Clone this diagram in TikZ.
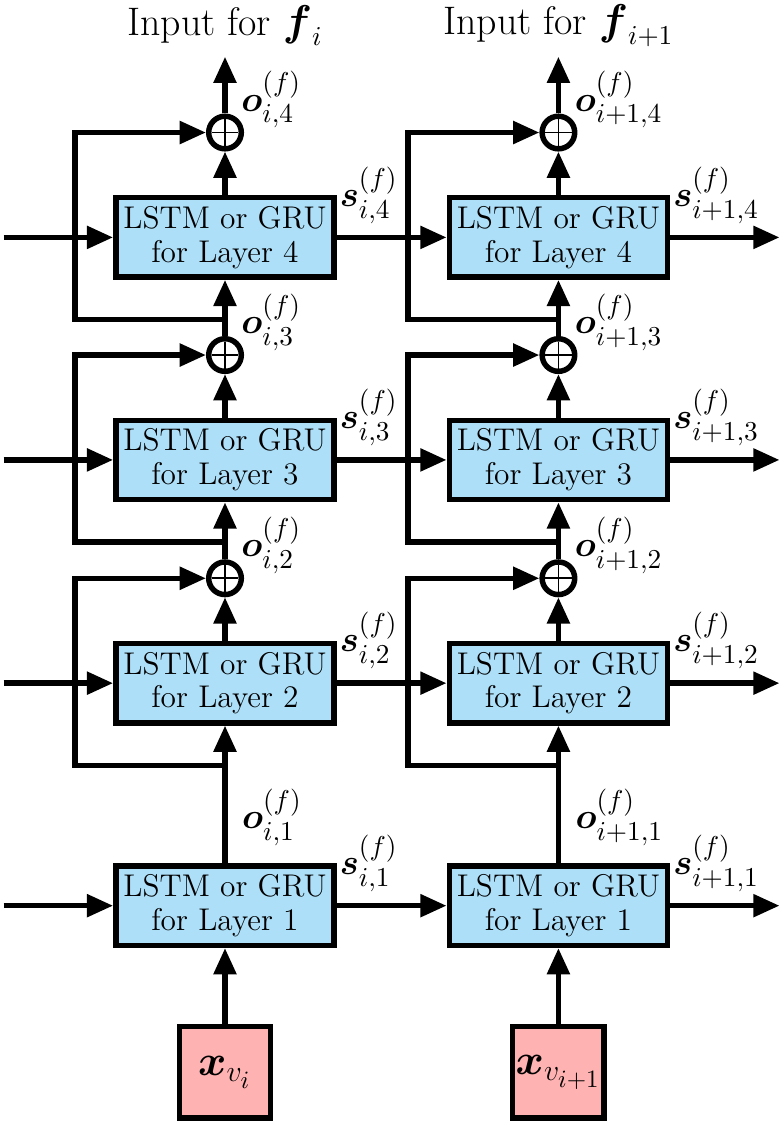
\documentclass[tikz,border=0pt]{standalone}
\usepackage{amsmath}
\usepackage{amssymb}
\usepackage{xcolor}
\usepackage{tikz}
\usetikzlibrary{arrows.meta,positioning,calc}
\definecolor{clrCell}{RGB}{173,223,248}
\definecolor{clrInp}{RGB}{255,178,178}
\tikzset{
  lstmbox/.style={rectangle,draw=black,fill=clrCell,line width=2.2pt,
    minimum width=3.08cm,minimum height=1.12cm,align=center,inner sep=0pt,
    font=\fontsize{12.6}{13.5}\selectfont},
  inputbox/.style={rectangle,draw=black,fill=clrInp,line width=2.2pt,
    minimum width=1.29cm,minimum height=1.29cm,inner sep=0pt,
    font=\LARGE},
  addnode/.style={circle,draw=black,fill=white,line width=2.2pt,
    minimum size=0.46cm,inner sep=0pt,
    path picture={
      \draw[line width=0.7pt]
        ($(path picture bounding box.north)+(0,-0.04)$) --
        ($(path picture bounding box.south)+(0,0.04)$)
        ($(path picture bounding box.west)+(0.04,0)$) --
        ($(path picture bounding box.east)+(-0.04,0)$);}},
  arrow/.style={-{Triangle[length=0.37cm,width=0.31cm]},line width=2.2pt},
  lbl/.style={font=\fontsize{15.5}{18}\selectfont,inner sep=1pt},
  heading/.style={font=\fontsize{16}{19}\selectfont}
}

\begin{document}
\begin{tikzpicture}[x=1cm,y=1cm]
  \useasboundingbox (0,0) rectangle (11.063,-15.875);

  % headings
  \node[heading] (ttli) at (3.175,-0.36) {Input for $\boldsymbol{f}_i$};
  \node[heading] (ttlj) at (7.88,-0.36) {Input for $\boldsymbol{f}_{i+1}$};

  % column i
  \node[inputbox] (inpi) at (3.175,-15.13) {$\boldsymbol{x}_{v_i}$};
  \node[lstmbox] (lstmi1) at (3.175,-12.78) {LSTM or GRU\\for Layer 1};
  \node[lstmbox] (lstmi2) at (3.175,-9.64) {LSTM or GRU\\for Layer 2};
  \node[lstmbox] (lstmi3) at (3.175,-6.49) {LSTM or GRU\\for Layer 3};
  \node[lstmbox] (lstmi4) at (3.175,-3.35) {LSTM or GRU\\for Layer 4};
  \node[addnode] (addi2) at (3.175,-8.16) {};
  \node[addnode] (addi3) at (3.175,-5.01) {};
  \node[addnode] (addi4) at (3.175,-1.87) {};
  \coordinate (tapi2) at (3.175,-10.80);
  \coordinate (tapi3) at (3.175,-7.65);
  \coordinate (tapi4) at (3.175,-4.51);
  \coordinate (outi) at (3.175,-0.80);
  \coordinate (ini1) at (0.05,-12.78);
  \coordinate (ini2) at (0.05,-9.64);
  \coordinate (ini3) at (0.05,-6.49);
  \coordinate (ini4) at (0.05,-3.35);

  % column i+1
  \node[inputbox] (inpj) at (7.88,-15.13) {$\boldsymbol{x}_{v_{i+1}}$};
  \node[lstmbox] (lstmj1) at (7.88,-12.78) {LSTM or GRU\\for Layer 1};
  \node[lstmbox] (lstmj2) at (7.88,-9.64) {LSTM or GRU\\for Layer 2};
  \node[lstmbox] (lstmj3) at (7.88,-6.49) {LSTM or GRU\\for Layer 3};
  \node[lstmbox] (lstmj4) at (7.88,-3.35) {LSTM or GRU\\for Layer 4};
  \node[addnode] (addj2) at (7.88,-8.16) {};
  \node[addnode] (addj3) at (7.88,-5.01) {};
  \node[addnode] (addj4) at (7.88,-1.87) {};
  \coordinate (tapj2) at (7.88,-10.80);
  \coordinate (tapj3) at (7.88,-7.65);
  \coordinate (tapj4) at (7.88,-4.51);
  \coordinate (outj) at (7.88,-0.80);
  \coordinate (endj1) at (11.0,-12.78);
  \coordinate (endj2) at (11.0,-9.64);
  \coordinate (endj3) at (11.0,-6.49);
  \coordinate (endj4) at (11.0,-3.35);

  % vertical flow
  \draw[arrow] (inpi) -- (lstmi1);
  \draw[arrow] (lstmi1) -- (lstmi2);
  \draw[arrow] (lstmi2) -- (addi2);
  \draw[arrow] (addi2) -- (lstmi3);
  \draw[arrow] (lstmi3) -- (addi3);
  \draw[arrow] (addi3) -- (lstmi4);
  \draw[arrow] (lstmi4) -- (addi4);
  \draw[arrow] (addi4) -- (outi);
  \draw[arrow] (inpj) -- (lstmj1);
  \draw[arrow] (lstmj1) -- (lstmj2);
  \draw[arrow] (lstmj2) -- (addj2);
  \draw[arrow] (addj2) -- (lstmj3);
  \draw[arrow] (lstmj3) -- (addj3);
  \draw[arrow] (addj3) -- (lstmj4);
  \draw[arrow] (lstmj4) -- (addj4);
  \draw[arrow] (addj4) -- (outj);

  % residual skips
  \draw[arrow] (tapi2) -- ++(-2.12,0) |- (addi2);
  \draw[arrow] (tapi3) -- ++(-2.12,0) |- (addi3);
  \draw[arrow] (tapi4) -- ++(-2.12,0) |- (addi4);
  \draw[arrow] (tapj2) -- ++(-2.12,0) |- (addj2);
  \draw[arrow] (tapj3) -- ++(-2.12,0) |- (addj3);
  \draw[arrow] (tapj4) -- ++(-2.12,0) |- (addj4);

  % hidden states
  \draw[arrow] (ini1) -- (lstmi1);
  \draw[arrow] (ini2) -- (lstmi2);
  \draw[arrow] (ini3) -- (lstmi3);
  \draw[arrow] (ini4) -- (lstmi4);
  \draw[arrow] (lstmi1) -- (lstmj1);
  \draw[arrow] (lstmi2) -- (lstmj2);
  \draw[arrow] (lstmi3) -- (lstmj3);
  \draw[arrow] (lstmi4) -- (lstmj4);
  \draw[arrow] (lstmj1) -- (endj1);
  \draw[arrow] (lstmj2) -- (endj2);
  \draw[arrow] (lstmj3) -- (endj3);
  \draw[arrow] (lstmj4) -- (endj4);

  % labels
  \node[lbl,anchor=south west] (oi1) at ($(lstmi1.north)+(0.2,0.2)$)
    {$\boldsymbol{o}^{(f)}_{i,1}$};
  \node[lbl,anchor=south west] (oi2) at ($(addi2.north east)+(0,-0.17)$) {$\boldsymbol{o}^{(f)}_{i,2}$};
  \node[lbl,anchor=south west] (oi3) at ($(addi3.north east)+(0,-0.17)$) {$\boldsymbol{o}^{(f)}_{i,3}$};
  \node[lbl,anchor=south west] (oi4) at ($(addi4.north east)+(0,-0.17)$) {$\boldsymbol{o}^{(f)}_{i,4}$};
  \node[lbl,anchor=south west] (oj1) at ($(lstmj1.north)+(0.2,0.2)$)
    {$\boldsymbol{o}^{(f)}_{i+1,1}$};
  \node[lbl,anchor=south west] (oj2) at ($(addj2.north east)+(0,-0.17)$) {$\boldsymbol{o}^{(f)}_{i+1,2}$};
  \node[lbl,anchor=south west] (oj3) at ($(addj3.north east)+(0,-0.17)$) {$\boldsymbol{o}^{(f)}_{i+1,3}$};
  \node[lbl,anchor=south west] (oj4) at ($(addj4.north east)+(0,-0.17)$) {$\boldsymbol{o}^{(f)}_{i+1,4}$};
  \node[lbl,anchor=west] (si1) at (lstmi1.north east) {$\boldsymbol{s}^{(f)}_{i,1}$};
  \node[lbl,anchor=west] (si2) at (lstmi2.north east) {$\boldsymbol{s}^{(f)}_{i,2}$};
  \node[lbl,anchor=west] (si3) at (lstmi3.north east) {$\boldsymbol{s}^{(f)}_{i,3}$};
  \node[lbl,anchor=west] (si4) at (lstmi4.north east) {$\boldsymbol{s}^{(f)}_{i,4}$};
  \node[lbl,anchor=west] (sj1) at (lstmj1.north east) {$\boldsymbol{s}^{(f)}_{i+1,1}$};
  \node[lbl,anchor=west] (sj2) at (lstmj2.north east) {$\boldsymbol{s}^{(f)}_{i+1,2}$};
  \node[lbl,anchor=west] (sj3) at (lstmj3.north east) {$\boldsymbol{s}^{(f)}_{i+1,3}$};
  \node[lbl,anchor=west] (sj4) at (lstmj4.north east) {$\boldsymbol{s}^{(f)}_{i+1,4}$};
\end{tikzpicture}
\end{document}
